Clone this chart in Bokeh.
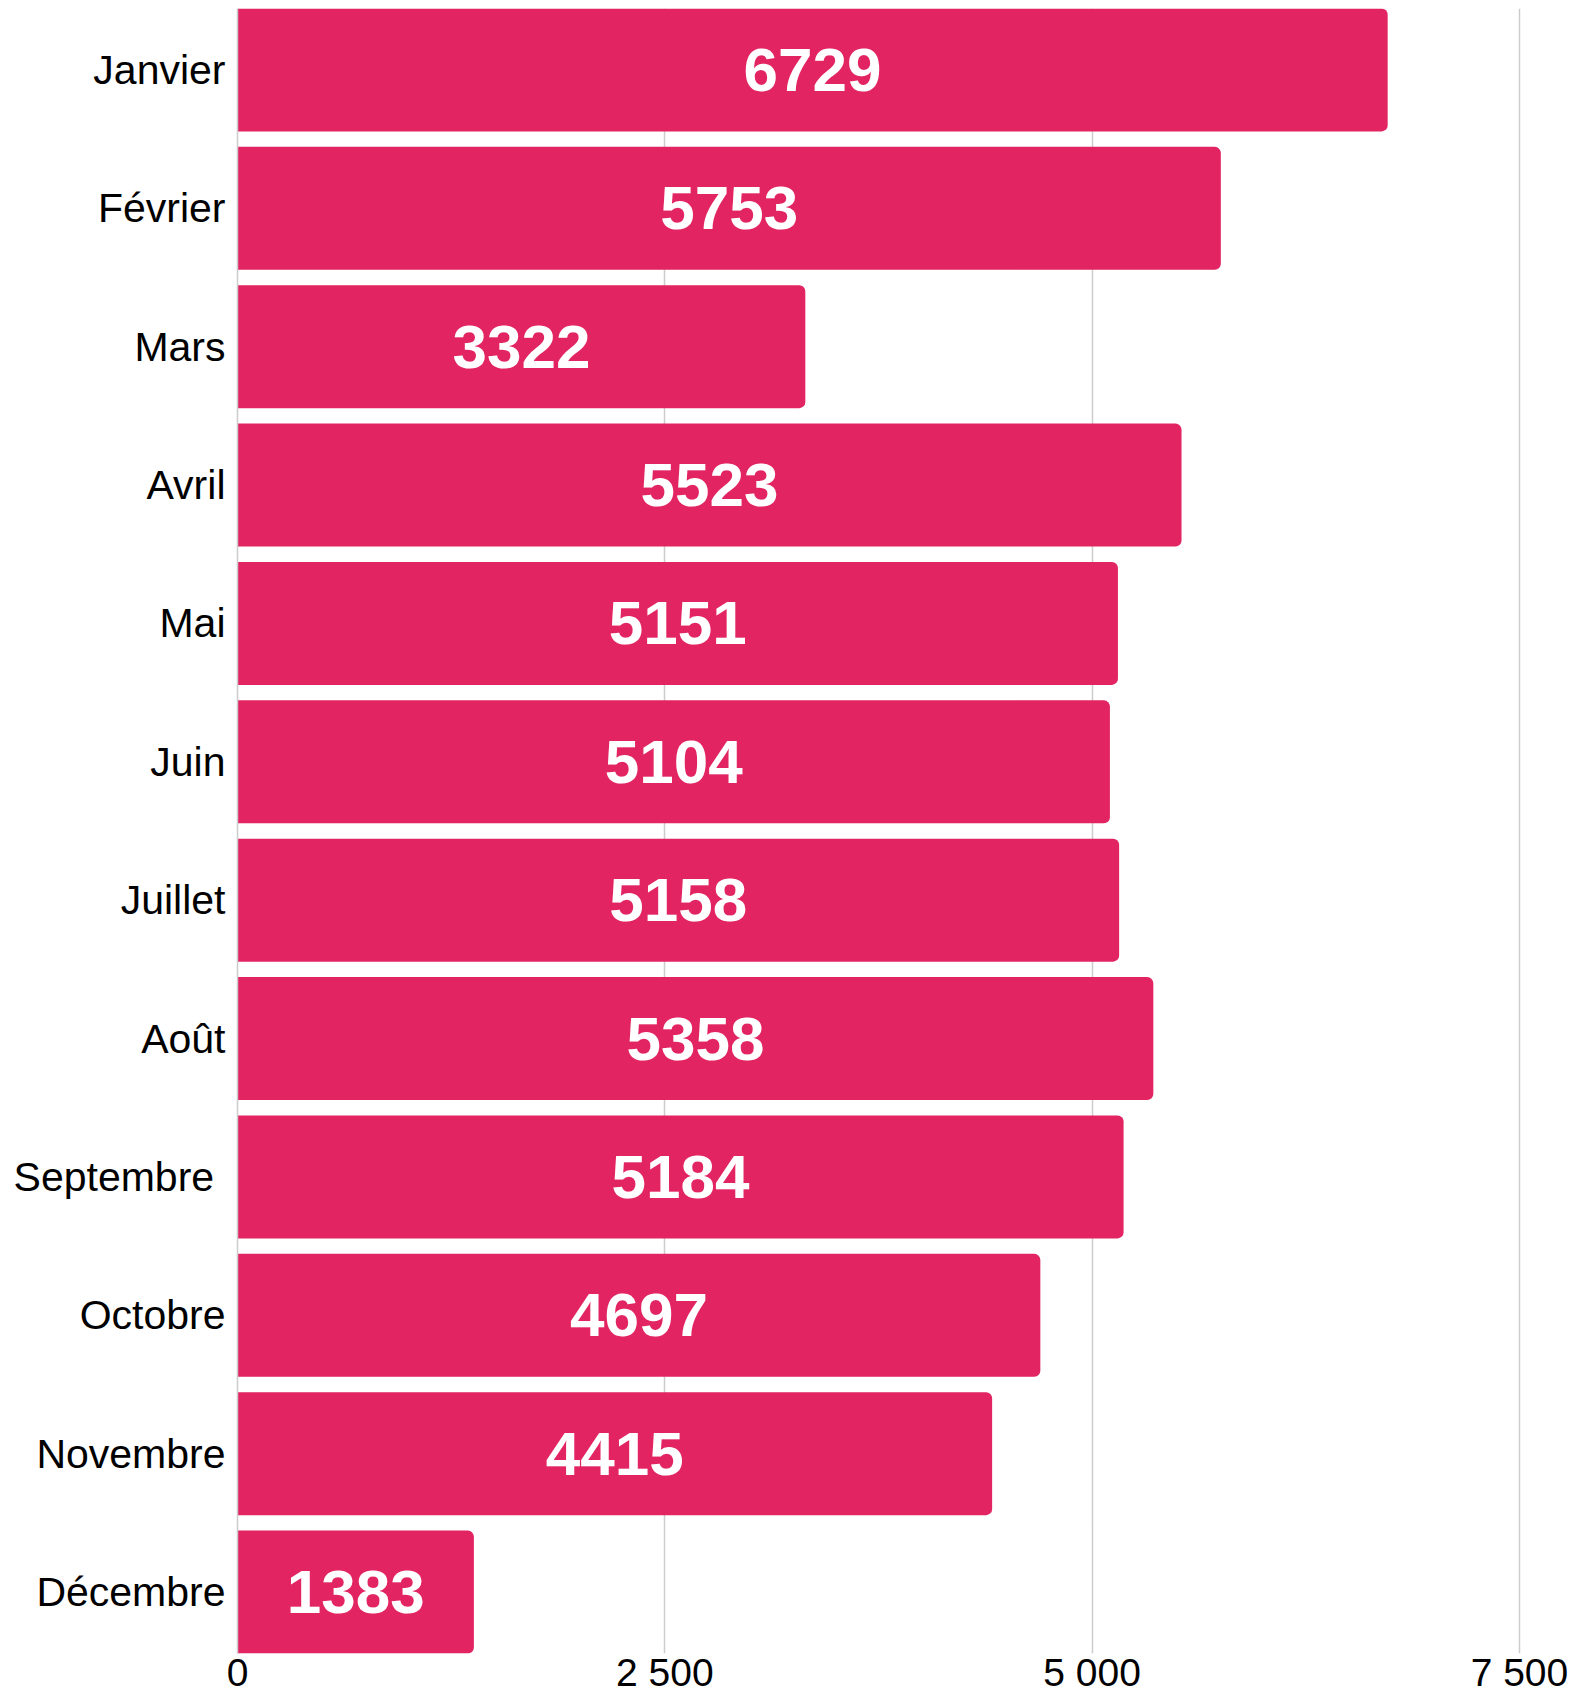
from bokeh.plotting import figure
from bokeh.models import ColumnDataSource, Range1d, FixedTicker
from bokeh.core.properties import value
from bokeh.embed import file_html
from bokeh.resources import INLINE

months = ["Janvier", "Février", "Mars", "Avril", "Mai", "Juin", "Juillet",
          "Août", "Septembre ", "Octobre", "Novembre", "Décembre"]
counts = [6729, 5753, 3322, 5523, 5151, 5104, 5158, 5358, 5184, 4697, 4415, 1383]
x_ticks = [0, 2500, 5000, 7500]
x_tick_labels = ["0", "2 500", "5 000", "7 500"]

n = len(months)
ypos = [n - 1 - i for i in range(n)]
BAR_H = 0.888

src = ColumnDataSource(dict(
    y=ypos,
    v=counts,
    half=[c / 2 for c in counts],
    label=[str(c) for c in counts],
))

p = figure(width=1573, height=1696, output_backend="svg", toolbar_location=None,
           x_range=Range1d(0, 7512), y_range=Range1d(-BAR_H / 2, n - 1 + BAR_H / 2),
           min_border_left=237, min_border_right=52, min_border_top=8, min_border_bottom=20)

p.hbar(y="y", right="v", left=0, height=BAR_H, source=src, color="#e32463",
       line_color=None, border_radius=(0, 6, 6, 0))
p.text(x="half", y="y", text="label", source=src, text_color="white",
       text_font=value("Liberation Sans"), text_font_style="bold",
       text_font_size="62px", text_align="center", text_baseline="middle")

p.outline_line_color = None
p.background_fill_color = "white"
p.border_fill_color = "white"

p.ygrid.grid_line_color = None
p.xgrid.grid_line_color = "#cccccc"
p.xgrid.grid_line_width = 1.5
p.xgrid.level = "underlay"

p.xaxis.ticker = FixedTicker(ticks=x_ticks)
p.xaxis.major_label_overrides = {t: l for t, l in zip(x_ticks, x_tick_labels)}
p.xaxis.axis_line_color = None
p.xaxis.major_tick_line_color = None
p.xaxis.minor_tick_line_color = None
p.xaxis.major_tick_out = 0
p.xaxis.minor_tick_out = 0
p.xaxis.major_label_text_font = "Liberation Sans"
p.xaxis.major_label_text_font_size = "39px"
p.xaxis.major_label_text_color = "black"
p.xaxis.major_label_standoff = -3

p.yaxis.ticker = FixedTicker(ticks=ypos)
p.yaxis.major_label_overrides = {y: m for y, m in zip(ypos, months)}
p.yaxis.axis_line_color = "#cccccc"
p.yaxis.axis_line_width = 1.5
p.yaxis.major_tick_line_color = None
p.yaxis.minor_tick_line_color = None
p.yaxis.major_tick_out = 0
p.yaxis.minor_tick_out = 0
p.yaxis.major_label_text_font = "Liberation Sans"
p.yaxis.major_label_text_font_size = "41px"
p.yaxis.major_label_text_color = "black"
p.yaxis.major_label_standoff = 12

open("out.html", "w").write(file_html(p, INLINE))
